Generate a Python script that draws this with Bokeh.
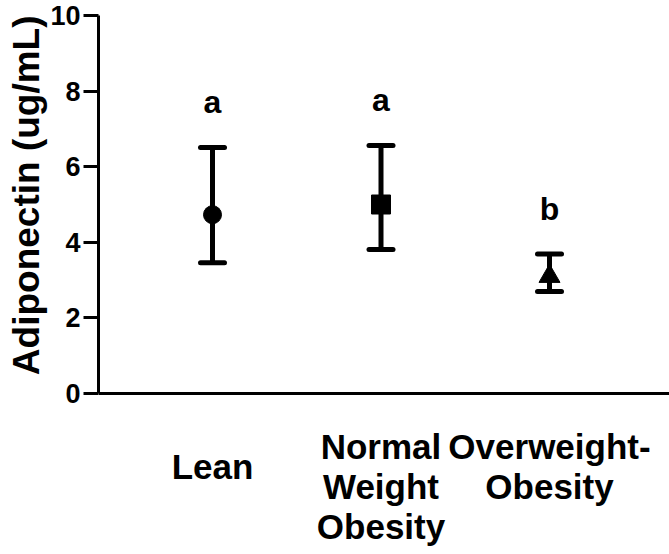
from bokeh.plotting import figure
from bokeh.models import (ColumnDataSource, Range1d, Whisker, TeeHead, FixedTicker, Title)
from bokeh.core.properties import value
from bokeh.embed import file_html
from bokeh.resources import INLINE

# ---- data ----
categories = ["Lean", "Normal Weight Obesity", "Overweight-Obesity"]
category_labels = ["Lean", "Normal\nWeight\nObesity", "Overweight-\nObesity"]
means = [4.73, 5.00, 3.10]
upper = [6.51, 6.56, 3.69]
lower = [3.46, 3.81, 2.70]
letters = ["a", "a", "b"]
y_ticks = [0, 2, 4, 6, 8, 10]
y_title = "Adiponectin (ug/mL)"

# ---- styles / layout ----
FONT_NAME = "Liberation Sans"
FONT = value(FONT_NAME)
markers = ["circle", "square", "triangle"]
marker_sizes = [18, 19, 21]
letter_gap = 1.2
label_tops = [-1.41, -0.875, -0.875]

W, H = 669, 554
LEFT, TOP, BOTTOM = 98, 15, 8
PX_PER_UNIT = (393 - TOP) / 10
frame_h = H - TOP - BOTTOM
y_min = 10 - frame_h / PX_PER_UNIT
spacing = 168.5
x_start = 1 - 114 / spacing
x_end = x_start + (W - LEFT) / spacing

xs = list(range(1, len(categories) + 1))

src = ColumnDataSource(dict(
    x=xs, mean=means, upper=upper, lower=lower, marker=markers, size=marker_sizes,
    letter=letters, letter_y=[u + letter_gap for u in upper],
    label=category_labels, label_y=label_tops,
))

p = figure(width=W, height=H, output_backend="svg", toolbar_location=None,
           x_range=Range1d(x_start, x_end), y_range=Range1d(y_min, 10),
           min_border_left=LEFT, min_border_right=0, min_border_top=TOP,
           min_border_bottom=BOTTOM)
p.outline_line_color = None
p.grid.visible = False
p.background_fill_color = "white"

# y axis (line only from 0 to 10)
ya = p.yaxis[0]
ya.bounds = (0, 10)
ya.ticker = FixedTicker(ticks=y_ticks)
ya.minor_tick_line_color = None
ya.major_tick_in = 0
ya.major_tick_out = 15
ya.major_tick_line_width = 3
ya.axis_line_width = 3
ya.major_tick_line_color = "black"
ya.axis_line_color = "black"
ya.major_label_text_font = FONT_NAME
ya.major_label_text_font_style = "bold"
ya.major_label_text_font_size = "27px"
ya.major_label_text_color = "black"
ya.major_label_standoff = 3

# y axis title, starting at the top of the axis
p.add_layout(Title(text=y_title, text_font=FONT_NAME, text_font_style="bold",
                   text_font_size="37px", text_color="black", align="right",
                   standoff=2), "left")

# x axis drawn at y = 0
xa = p.xaxis[0]
xa.fixed_location = 0
xa.ticker = FixedTicker(ticks=[])
xa.minor_tick_line_color = None
xa.major_tick_line_color = None
xa.axis_line_width = 3
xa.axis_line_color = "black"

# markers
p.scatter(x="x", y="mean", marker="marker", size="size", source=src,
          fill_color="black", line_color="black")

# error bars
w = Whisker(source=src, base="x", upper="upper", lower="lower",
            line_width=5, line_color="black",
            upper_head=TeeHead(size=24, line_width=5, line_color="black", line_cap="round"),
            lower_head=TeeHead(size=24, line_width=5, line_color="black", line_cap="round"))
p.add_layout(w)

# significance letters
p.text(x="x", y="letter_y", text="letter", source=src, text_font=FONT,
       text_font_style="bold", text_font_size="32px", text_align="center",
       text_baseline="alphabetic", text_color="black")

# category labels
p.text(x="x", y="label_y", text="label", source=src, text_font=FONT,
       text_font_style="bold", text_font_size="35px", text_align="center",
       text_baseline="top", text_line_height=1.03, text_color="black")

open("out.html", "w").write(file_html(p, INLINE))
